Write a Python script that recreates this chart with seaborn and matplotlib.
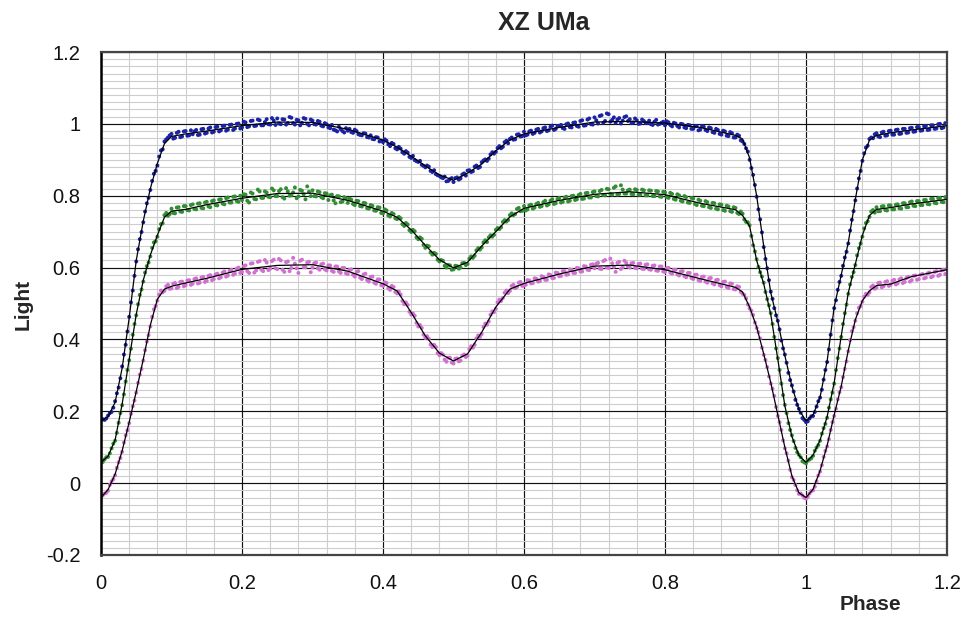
import numpy as np
import pandas as pd
import matplotlib
matplotlib.use("Agg")
import matplotlib.pyplot as plt
import seaborn as sns
from matplotlib.ticker import MultipleLocator

# ---------------- data ----------------
# night 1 observations: phases 0.000, 0.005, ... 1.200
phase_obs1 = np.round(np.linspace(0.0, 1.2, 241), 4)
# night 2 observations: phases 0.0025, 0.0075, ... 1.1975
phase_obs2 = np.round(np.linspace(0.0025, 1.1975, 240), 4)

blue_obs1 = [
    0.175, 0.176, 0.188, 0.198, 0.228, 0.266, 0.325, 0.385, 0.463, 0.536,
    0.617, 0.679, 0.726, 0.779, 0.816, 0.861, 0.884, 0.926, 0.951, 0.962,
    0.972, 0.961, 0.978, 0.965, 0.980, 0.968, 0.971, 0.983, 0.970, 0.986,
    0.975, 0.990, 0.978, 0.992, 0.982, 0.995, 0.984, 0.998, 0.987, 1.001,
    0.990, 1.004, 0.993, 1.009, 0.995, 1.010, 0.996, 1.013, 0.998, 1.009,
    1.015, 0.999, 1.012, 1.002, 1.017, 0.998, 1.010, 1.003, 1.014, 0.996,
    1.009, 0.998, 1.006, 0.993, 0.999, 0.988, 0.984, 0.979, 0.985, 0.976,
    0.981, 0.977, 0.984, 0.971, 0.968, 0.973, 0.962, 0.958, 0.963, 0.951,
    0.949, 0.953, 0.938, 0.944, 0.929, 0.931, 0.917, 0.920, 0.905, 0.899,
    0.894, 0.886, 0.879, 0.881, 0.866, 0.860, 0.855, 0.849, 0.840, 0.846,
    0.838, 0.851, 0.848, 0.862, 0.870, 0.866, 0.881, 0.877, 0.893, 0.901,
    0.903, 0.921, 0.922, 0.938, 0.936, 0.953, 0.958, 0.956, 0.970, 0.965,
    0.978, 0.970, 0.981, 0.975, 0.986, 0.979, 0.990, 0.982, 0.995, 0.986,
    0.994, 0.988, 0.999, 0.991, 1.003, 0.994, 1.008, 0.995, 1.012, 0.999,
    1.018, 1.001, 1.024, 1.008, 1.027, 1.011, 1.003, 1.016, 1.009, 1.021,
    1.013, 1.004, 1.010, 1.001, 1.008, 1.002, 0.999, 1.006, 0.998, 1.003,
    0.996, 1.004, 0.993, 1.001, 0.990, 0.999, 0.988, 0.996, 0.986, 0.994,
    0.984, 0.992, 0.980, 0.988, 0.975, 0.983, 0.970, 0.979, 0.966, 0.974,
    0.962, 0.967, 0.951, 0.932, 0.900, 0.858, 0.797, 0.734, 0.657, 0.598,
    0.533, 0.487, 0.452, 0.397, 0.358, 0.307, 0.272, 0.232, 0.207, 0.181,
    0.170, 0.180, 0.187, 0.213, 0.238, 0.288, 0.337, 0.413, 0.487, 0.538,
    0.577, 0.628, 0.667, 0.733, 0.787, 0.848, 0.897, 0.934, 0.958, 0.960,
    0.974, 0.963, 0.978, 0.968, 0.981, 0.970, 0.984, 0.973, 0.986, 0.976,
    0.989, 0.979, 0.991, 0.982, 0.994, 0.984, 0.996, 0.987, 1.000, 0.990,
    0.998,
]
blue_obs2 = [
    0.178, 0.180, 0.195, 0.210, 0.250, 0.292, 0.358, 0.422, 0.503, 0.577,
    0.651, 0.699, 0.756, 0.794, 0.841, 0.869, 0.909, 0.929, 0.957, 0.968,
    0.959, 0.975, 0.963, 0.979, 0.967, 0.982, 0.979, 0.969, 0.985, 0.973,
    0.987, 0.976, 0.991, 0.979, 0.994, 0.981, 0.997, 0.983, 1.000, 0.987,
    1.006, 0.991, 1.008, 0.994, 1.012, 0.996, 1.005, 0.999, 1.016, 0.997,
    1.001, 1.013, 0.998, 1.019, 1.002, 1.011, 0.996, 1.016, 1.000, 1.012,
    0.999, 1.008, 0.995, 1.002, 0.990, 0.997, 0.982, 0.992, 0.980, 0.988,
    0.986, 0.975, 0.980, 0.969, 0.974, 0.963, 0.968, 0.957, 0.962, 0.953,
    0.957, 0.943, 0.947, 0.932, 0.936, 0.921, 0.924, 0.908, 0.911, 0.896,
    0.897, 0.883, 0.884, 0.869, 0.871, 0.857, 0.851, 0.853, 0.841, 0.849,
    0.849, 0.845, 0.859, 0.856, 0.871, 0.868, 0.884, 0.880, 0.898, 0.897,
    0.915, 0.917, 0.933, 0.932, 0.949, 0.946, 0.962, 0.957, 0.971, 0.966,
    0.968, 0.979, 0.972, 0.984, 0.976, 0.988, 0.980, 0.992, 0.983, 0.994,
    0.997, 0.986, 1.001, 0.990, 1.004, 0.992, 1.010, 0.996, 1.015, 0.998,
    1.010, 1.022, 1.003, 1.029, 1.006, 1.018, 1.012, 1.001, 1.019, 1.008,
    1.002, 1.015, 1.000, 1.012, 1.003, 1.009, 0.997, 1.011, 1.000, 1.006,
    1.007, 0.997, 1.003, 0.994, 1.000, 0.990, 0.997, 0.986, 0.993, 0.982,
    0.994, 0.983, 0.990, 0.977, 0.986, 0.972, 0.981, 0.967, 0.977, 0.962,
    0.970, 0.954, 0.944, 0.923, 0.877, 0.830, 0.762, 0.698, 0.624, 0.565,
    0.513, 0.467, 0.428, 0.375, 0.335, 0.287, 0.255, 0.218, 0.196, 0.176,
    0.172, 0.186, 0.198, 0.228, 0.260, 0.315, 0.372, 0.453, 0.509, 0.560,
    0.605, 0.644, 0.703, 0.757, 0.820, 0.869, 0.918, 0.939, 0.962, 0.971,
    0.965, 0.976, 0.967, 0.980, 0.970, 0.983, 0.972, 0.986, 0.975, 0.988,
    0.978, 0.991, 0.981, 0.993, 0.983, 0.996, 0.986, 0.999, 0.988, 1.002,
]

green_obs1 = [
    0.056, 0.066, 0.073, 0.097, 0.118, 0.168, 0.217, 0.283, 0.342, 0.413,
    0.467, 0.524, 0.561, 0.604, 0.631, 0.670, 0.686, 0.721, 0.746, 0.744,
    0.764, 0.751, 0.768, 0.755, 0.771, 0.759, 0.776, 0.762, 0.779, 0.765,
    0.783, 0.768, 0.787, 0.773, 0.790, 0.776, 0.795, 0.781, 0.798, 0.783,
    0.788, 0.803, 0.781, 0.806, 0.790, 0.812, 0.794, 0.809, 0.796, 0.815,
    0.799, 0.818, 0.792, 0.812, 0.801, 0.823, 0.798, 0.814, 0.790, 0.811,
    0.815, 0.798, 0.810, 0.793, 0.806, 0.801, 0.787, 0.799, 0.782, 0.796,
    0.780, 0.789, 0.774, 0.785, 0.770, 0.779, 0.764, 0.772, 0.758, 0.767,
    0.751, 0.759, 0.742, 0.749, 0.735, 0.737, 0.716, 0.720, 0.699, 0.701,
    0.679, 0.680, 0.655, 0.659, 0.636, 0.638, 0.617, 0.619, 0.600, 0.606,
    0.595, 0.604, 0.600, 0.613, 0.610, 0.631, 0.633, 0.654, 0.656, 0.676,
    0.684, 0.686, 0.705, 0.707, 0.727, 0.728, 0.746, 0.746, 0.763, 0.757,
    0.771, 0.762, 0.775, 0.767, 0.780, 0.771, 0.786, 0.776, 0.790, 0.779,
    0.794, 0.783, 0.797, 0.786, 0.800, 0.790, 0.805, 0.792, 0.808, 0.795,
    0.812, 0.798, 0.816, 0.801, 0.818, 0.803, 0.826, 0.805, 0.817, 0.806,
    0.817, 0.804, 0.816, 0.803, 0.815, 0.801, 0.814, 0.799, 0.812, 0.797,
    0.809, 0.794, 0.805, 0.789, 0.801, 0.784, 0.796, 0.780, 0.792, 0.774,
    0.786, 0.771, 0.782, 0.766, 0.779, 0.762, 0.775, 0.758, 0.770, 0.755,
    0.766, 0.749, 0.750, 0.727, 0.718, 0.662, 0.623, 0.587, 0.558, 0.512,
    0.473, 0.407, 0.348, 0.277, 0.218, 0.167, 0.133, 0.098, 0.079, 0.061,
    0.055, 0.066, 0.076, 0.099, 0.118, 0.153, 0.182, 0.233, 0.277, 0.348,
    0.407, 0.473, 0.527, 0.574, 0.607, 0.654, 0.686, 0.724, 0.741, 0.760,
    0.768, 0.757, 0.771, 0.759, 0.773, 0.762, 0.776, 0.764, 0.779, 0.768,
    0.784, 0.771, 0.785, 0.774, 0.788, 0.776, 0.791, 0.779, 0.794, 0.782,
    0.795,
]
green_obs2 = [
    0.059, 0.072, 0.083, 0.110, 0.140, 0.195, 0.247, 0.315, 0.374, 0.443,
    0.498, 0.539, 0.586, 0.614, 0.655, 0.673, 0.707, 0.723, 0.752, 0.749,
    0.752, 0.767, 0.756, 0.771, 0.760, 0.774, 0.763, 0.778, 0.766, 0.781,
    0.770, 0.785, 0.774, 0.789, 0.778, 0.793, 0.781, 0.797, 0.785, 0.800,
    0.804, 0.786, 0.809, 0.791, 0.817, 0.794, 0.812, 0.797, 0.820, 0.799,
    0.813, 0.796, 0.821, 0.800, 0.809, 0.793, 0.816, 0.804, 0.826, 0.799,
    0.799, 0.812, 0.796, 0.807, 0.788, 0.803, 0.779, 0.798, 0.784, 0.793,
    0.792, 0.777, 0.786, 0.771, 0.780, 0.765, 0.774, 0.759, 0.768, 0.752,
    0.762, 0.745, 0.752, 0.737, 0.741, 0.721, 0.724, 0.704, 0.705, 0.684,
    0.684, 0.663, 0.661, 0.642, 0.641, 0.622, 0.621, 0.605, 0.607, 0.594,
    0.605, 0.597, 0.612, 0.607, 0.625, 0.627, 0.648, 0.650, 0.670, 0.671,
    0.690, 0.691, 0.710, 0.712, 0.732, 0.732, 0.751, 0.749, 0.766, 0.758,
    0.759, 0.773, 0.764, 0.777, 0.769, 0.782, 0.773, 0.786, 0.777, 0.791,
    0.781, 0.795, 0.784, 0.799, 0.788, 0.802, 0.791, 0.807, 0.795, 0.810,
    0.799, 0.813, 0.802, 0.819, 0.805, 0.822, 0.803, 0.829, 0.806, 0.815,
    0.805, 0.818, 0.803, 0.817, 0.801, 0.815, 0.799, 0.813, 0.798, 0.811,
    0.796, 0.808, 0.791, 0.804, 0.786, 0.799, 0.781, 0.794, 0.777, 0.789,
    0.772, 0.785, 0.768, 0.780, 0.764, 0.776, 0.760, 0.772, 0.757, 0.768,
    0.752, 0.756, 0.734, 0.726, 0.688, 0.645, 0.602, 0.575, 0.532, 0.495,
    0.443, 0.375, 0.315, 0.245, 0.195, 0.148, 0.117, 0.086, 0.072, 0.058,
    0.063, 0.069, 0.090, 0.106, 0.138, 0.165, 0.210, 0.252, 0.315, 0.375,
    0.443, 0.497, 0.553, 0.587, 0.634, 0.667, 0.709, 0.729, 0.756, 0.753,
    0.757, 0.770, 0.760, 0.773, 0.762, 0.775, 0.765, 0.779, 0.768, 0.782,
    0.772, 0.785, 0.774, 0.788, 0.777, 0.791, 0.780, 0.793, 0.783, 0.796,
]

magenta_obs1 = [
    -0.042, -0.029, -0.021, 0.005, 0.022, 0.058, 0.087, 0.133, 0.167, 0.214,
    0.252, 0.302, 0.341, 0.394, 0.436, 0.484, 0.508, 0.536, 0.535, 0.552,
    0.542, 0.557, 0.546, 0.561, 0.551, 0.565, 0.555, 0.570, 0.558, 0.574,
    0.563, 0.579, 0.568, 0.583, 0.573, 0.589, 0.578, 0.594, 0.583, 0.600,
    0.588, 0.606, 0.585, 0.612, 0.592, 0.618, 0.590, 0.614, 0.597, 0.622,
    0.596, 0.620, 0.588, 0.617, 0.599, 0.611, 0.585, 0.622, 0.601, 0.616,
    0.600, 0.614, 0.594, 0.611, 0.592, 0.606, 0.588, 0.603, 0.585, 0.599,
    0.582, 0.595, 0.575, 0.590, 0.568, 0.583, 0.561, 0.575, 0.555, 0.567,
    0.549, 0.557, 0.538, 0.546, 0.528, 0.525, 0.498, 0.496, 0.469, 0.466,
    0.436, 0.432, 0.404, 0.402, 0.379, 0.379, 0.356, 0.358, 0.338, 0.349,
    0.333, 0.347, 0.341, 0.358, 0.355, 0.381, 0.385, 0.411, 0.415, 0.444,
    0.450, 0.478, 0.485, 0.511, 0.515, 0.536, 0.535, 0.552, 0.546, 0.560,
    0.550, 0.565, 0.556, 0.570, 0.561, 0.576, 0.566, 0.581, 0.571, 0.586,
    0.576, 0.590, 0.580, 0.595, 0.585, 0.599, 0.589, 0.604, 0.594, 0.608,
    0.598, 0.613, 0.596, 0.621, 0.599, 0.612, 0.588, 0.616, 0.601, 0.613,
    0.600, 0.613, 0.598, 0.611, 0.596, 0.609, 0.594, 0.606, 0.591, 0.603,
    0.588, 0.599, 0.583, 0.594, 0.578, 0.590, 0.573, 0.585, 0.568, 0.580,
    0.563, 0.575, 0.558, 0.571, 0.553, 0.566, 0.548, 0.561, 0.543, 0.555,
    0.539, 0.546, 0.527, 0.514, 0.486, 0.468, 0.432, 0.403, 0.357, 0.323,
    0.277, 0.243, 0.187, 0.148, 0.097, 0.063, 0.017, -0.005, -0.030, -0.034,
    -0.043, -0.029, -0.020, 0.005, 0.032, 0.073, 0.102, 0.148, 0.187, 0.233,
    0.267, 0.318, 0.367, 0.423, 0.452, 0.488, 0.505, 0.527, 0.531, 0.550,
    0.544, 0.558, 0.548, 0.562, 0.552, 0.566, 0.556, 0.570, 0.560, 0.574,
    0.565, 0.578, 0.568, 0.582, 0.572, 0.586, 0.576, 0.590, 0.580, 0.594,
    0.597,
]
magenta_obs2 = [
    -0.034, -0.027, -0.005, 0.011, 0.043, 0.070, 0.113, 0.147, 0.193, 0.230,
    0.279, 0.318, 0.370, 0.412, 0.463, 0.493, 0.525, 0.531, 0.548, 0.541,
    0.555, 0.543, 0.560, 0.548, 0.564, 0.552, 0.568, 0.556, 0.572, 0.560,
    0.577, 0.565, 0.581, 0.570, 0.586, 0.575, 0.591, 0.580, 0.597, 0.585,
    0.604, 0.590, 0.611, 0.586, 0.616, 0.594, 0.621, 0.593, 0.618, 0.598,
    0.624, 0.594, 0.615, 0.590, 0.627, 0.598, 0.619, 0.601, 0.614, 0.587,
    0.612, 0.598, 0.609, 0.595, 0.606, 0.591, 0.603, 0.589, 0.599, 0.584,
    0.594, 0.580, 0.588, 0.572, 0.581, 0.565, 0.574, 0.558, 0.567, 0.551,
    0.559, 0.542, 0.549, 0.532, 0.533, 0.507, 0.503, 0.477, 0.472, 0.446,
    0.440, 0.413, 0.409, 0.386, 0.385, 0.362, 0.362, 0.344, 0.349, 0.336,
    0.346, 0.339, 0.355, 0.351, 0.373, 0.377, 0.403, 0.407, 0.435, 0.441,
    0.469, 0.476, 0.503, 0.507, 0.530, 0.529, 0.549, 0.543, 0.558, 0.549,
    0.552, 0.564, 0.557, 0.569, 0.562, 0.574, 0.566, 0.579, 0.571, 0.585,
    0.577, 0.590, 0.581, 0.594, 0.585, 0.598, 0.589, 0.603, 0.593, 0.609,
    0.611, 0.597, 0.618, 0.600, 0.625, 0.602, 0.613, 0.596, 0.619, 0.603,
    0.612, 0.599, 0.610, 0.597, 0.608, 0.595, 0.605, 0.592, 0.603, 0.589,
    0.598, 0.586, 0.594, 0.581, 0.589, 0.576, 0.585, 0.571, 0.580, 0.565,
    0.574, 0.561, 0.570, 0.556, 0.565, 0.551, 0.560, 0.546, 0.556, 0.540,
    0.548, 0.532, 0.524, 0.497, 0.480, 0.447, 0.420, 0.377, 0.343, 0.297,
    0.263, 0.212, 0.170, 0.119, 0.083, 0.037, 0.009, -0.020, -0.029, -0.041,
    -0.038, -0.022, -0.010, 0.021, 0.050, 0.090, 0.122, 0.170, 0.207, 0.253,
    0.295, 0.339, 0.398, 0.434, 0.473, 0.493, 0.519, 0.524, 0.546, 0.541,
    0.557, 0.545, 0.560, 0.549, 0.563, 0.553, 0.567, 0.557, 0.571, 0.561,
    0.577, 0.566, 0.580, 0.570, 0.584, 0.573, 0.588, 0.577, 0.592, 0.582,
]

# fitted light curves (black lines)
phase_fit = [0.00, 0.01, 0.02, 0.03, 0.04, 0.05, 0.06, 0.07, 0.08, 0.09, 0.10,
             0.12, 0.15, 0.20, 0.25, 0.30, 0.35, 0.40,
             0.42, 0.44, 0.46, 0.48, 0.50, 0.52, 0.54, 0.56, 0.58, 0.60,
             0.65, 0.70, 0.75, 0.80, 0.85, 0.90,
             0.91, 0.92, 0.93, 0.94, 0.95, 0.96, 0.97, 0.98, 0.99, 1.00,
             1.01, 1.02, 1.03, 1.04, 1.05, 1.06, 1.07, 1.08, 1.09, 1.10,
             1.12, 1.15, 1.20]

blue_fit = [0.173, 0.185, 0.225, 0.32, 0.46, 0.62, 0.73, 0.82, 0.89, 0.945, 0.965,
            0.972, 0.980, 0.995, 1.005, 1.004, 0.985, 0.955,
            0.935, 0.910, 0.883, 0.858, 0.843, 0.863, 0.888, 0.925, 0.955, 0.972,
            0.990, 1.005, 1.007, 1.002, 0.990, 0.968,
            0.958, 0.905, 0.80, 0.66, 0.53, 0.45, 0.355, 0.27, 0.205, 0.173,
            0.19, 0.24, 0.34, 0.49, 0.58, 0.67, 0.79, 0.90, 0.955, 0.968,
            0.975, 0.983, 0.995]

green_fit = [0.058, 0.075, 0.12, 0.22, 0.345, 0.47, 0.565, 0.635, 0.69, 0.74, 0.757,
             0.762, 0.775, 0.793, 0.806, 0.807, 0.787, 0.757,
             0.740, 0.705, 0.662, 0.622, 0.599, 0.615, 0.660, 0.700, 0.741, 0.765,
             0.787, 0.804, 0.811, 0.803, 0.779, 0.761,
             0.745, 0.715, 0.62, 0.555, 0.47, 0.345, 0.215, 0.13, 0.077, 0.058,
             0.078, 0.12, 0.185, 0.28, 0.41, 0.53, 0.61, 0.69, 0.745, 0.762,
             0.767, 0.777, 0.790]

magenta_fit = [-0.040, -0.018, 0.025, 0.09, 0.17, 0.255, 0.345, 0.44, 0.512, 0.54, 0.548,
               0.557, 0.570, 0.595, 0.606, 0.608, 0.590, 0.555,
               0.535, 0.475, 0.410, 0.362, 0.340, 0.360, 0.420, 0.490, 0.540, 0.556,
               0.582, 0.604, 0.607, 0.594, 0.569, 0.545,
               0.532, 0.49, 0.435, 0.36, 0.28, 0.19, 0.10, 0.02, -0.027, -0.040,
               -0.017, 0.035, 0.105, 0.19, 0.27, 0.37, 0.455, 0.508, 0.535, 0.550,
               0.554, 0.575, 0.594]

x_ticks = [0, 0.2, 0.4, 0.6, 0.8, 1, 1.2]
y_ticks = [-0.2, 0, 0.2, 0.4, 0.6, 0.8, 1, 1.2]
x_ticklabels = ["0", "0.2", "0.4", "0.6", "0.8", "1", "1.2"]
y_ticklabels = ["-0.2", "0", "0.2", "0.4", "0.6", "0.8", "1", "1.2"]

# ---------------- plot ----------------
sns.set_theme(style="white")
plt.rcParams["font.family"] = ["Liberation Sans", "DejaVu Sans"]

fig = plt.figure(figsize=(9.66, 6.2), dpi=100)
ax = fig.add_axes([101 / 966, 1 - 555 / 620, 846 / 966, 503 / 620])

n1, n2 = len(phase_obs1), len(phase_obs2)
obs = pd.DataFrame({
    "Phase": np.concatenate([phase_obs1, phase_obs2] * 3),
    "Light": np.concatenate([magenta_obs1, magenta_obs2,
                             green_obs1, green_obs2,
                             blue_obs1, blue_obs2]),
    "band": ["m"] * (n1 + n2) + ["g"] * (n1 + n2) + ["b"] * (n1 + n2),
})
palette = {"b": "#1a22a6", "g": "#328e32", "m": "#d270d2"}

# grid
ax.xaxis.set_minor_locator(MultipleLocator(0.04))
ax.yaxis.set_minor_locator(MultipleLocator(0.02))
ax.grid(which="minor", color="#cdcdcd", linewidth=0.8, zorder=0)
ax.grid(which="major", color="#111111", linewidth=0.85, zorder=0.5)
ax.set_axisbelow(True)

sns.scatterplot(data=obs, x="Phase", y="Light", hue="band", palette=palette,
                s=8, linewidth=0, marker="o", legend=False, ax=ax, zorder=2)

for vals in (blue_fit, green_fit, magenta_fit):
    sns.lineplot(x=phase_fit, y=vals, color="black", linewidth=0.9,
                 estimator=None, sort=False, ax=ax, zorder=3)

ax.set_xlim(0, 1.2)
ax.set_ylim(-0.2, 1.2)
ax.set_xticks(x_ticks)
ax.set_xticklabels(x_ticklabels)
ax.set_yticks(y_ticks)
ax.set_yticklabels(y_ticklabels)
ax.tick_params(axis="x", which="both", length=0, pad=14, labelsize=14.5, colors="#111111")
ax.tick_params(axis="y", which="major", length=6, width=1, color="black",
               direction="out", pad=9, labelsize=14.5, labelcolor="#111111")
ax.tick_params(axis="y", which="minor", length=0)
ax.set_xlabel("")
ax.set_ylabel("")

for side in ["top", "right", "bottom"]:
    ax.spines[side].set_color("#444444")
    ax.spines[side].set_linewidth(1.6)
ax.spines["left"].set_color("black")
ax.spines["left"].set_linewidth(1.8)

fig.text(544 / 966, 1 - 23 / 620, "XZ UMa", ha="center", va="center",
         fontsize=18, fontweight="bold")
fig.text(870 / 966, 1 - 605 / 620, "Phase", ha="center", va="center",
         fontsize=15, fontweight="bold")
fig.text(23 / 966, 1 - 304 / 620, "Light", ha="center", va="center",
         rotation=90, fontsize=15, fontweight="bold")

fig.savefig("out.png", dpi=100, facecolor="white")
